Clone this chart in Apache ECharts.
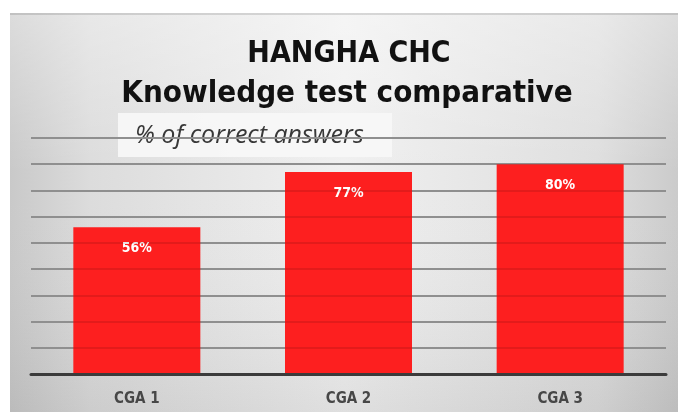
<!DOCTYPE html>
<html>
<head>
<meta charset="utf-8">
<script src="https://cdn.jsdelivr.net/npm/echarts@6/dist/echarts.min.js"></script>
<style>
  html, body { margin: 0; padding: 0; background: #fff; }
  #chart { width: 678px; height: 412px; }
</style>
</head>
<body>
<div id="chart"></div>
<script>
// Knowledge test results per group
const categories = ['CGA 1', 'CGA 2', 'CGA 3'];
const correctPct = [56, 77, 80];
const yTicks = { min: 0, max: 90, interval: 10 };

const titleMain = 'HANGHA CHC';
const titleSub = 'Knowledge test comparative';
const unitNote = '% of correct answers';

const condensed = "'DejaVu Sans Condensed', 'Liberation Sans Narrow', 'Roboto', sans-serif";

const chart = echarts.init(document.getElementById('chart'), null, { renderer: 'canvas' });

chart.setOption({
  backgroundColor: '#ffffff',
  animation: false,
  graphic: [
    {
      // panel: light in the middle, darker towards the sides
      type: 'rect', z: -10, silent: true,
      shape: { x: 10, y: 13, width: 668, height: 399 },
      style: {
        fill: {
          type: 'linear', x: 0, y: 0, x2: 1, y2: 0,
          colorStops: [
            { offset: 0, color: '#c9c9c9' },
            { offset: 0.12, color: '#dcdcdc' },
            { offset: 0.5, color: '#f0f0f0' },
            { offset: 0.88, color: '#dedede' },
            { offset: 1, color: '#cbcbcb' }
          ]
        }
      }
    },
    {
      // slight darkening towards the bottom
      type: 'rect', z: -9, silent: true,
      shape: { x: 10, y: 13, width: 668, height: 399 },
      style: {
        fill: {
          type: 'linear', x: 0, y: 0, x2: 0, y2: 1,
          colorStops: [
            { offset: 0, color: 'rgba(255,255,255,0.35)' },
            { offset: 0.4, color: 'rgba(255,255,255,0)' },
            { offset: 1, color: 'rgba(0,0,0,0.07)' }
          ]
        }
      }
    },
    {
      type: 'rect', z: -8, silent: true,
      shape: { x: 10, y: 13, width: 668, height: 2 },
      style: { fill: 'rgba(0,0,0,0.12)' }
    },
    {
      type: 'group', z: 20,
      children: [
        {
          type: 'rect',
          shape: { x: 118, y: 113, width: 274, height: 44 },
          style: { fill: 'rgba(247,247,247,0.92)' }
        },
        {
          type: 'text', x: 135, y: 136,
          style: {
            text: unitNote,
            font: 'italic 400 25px "Open Sans", "Noto Sans", sans-serif',
            fill: '#383838',
            verticalAlign: 'middle'
          }
        }
      ]
    }
  ],
  title: [
    {
      text: titleMain, left: 344, top: 34, textAlign: 'center',
      textStyle: { fontFamily: condensed, fontWeight: 'bold', fontSize: 30, color: '#111' }
    },
    {
      text: titleSub, left: 342, top: 73, textAlign: 'center',
      textStyle: { fontFamily: condensed, fontWeight: 'bold', fontSize: 31, color: '#111' }
    }
  ],
  grid: { left: 31, right: 12, top: 138, bottom: 38, containLabel: false },
  xAxis: {
    type: 'category',
    data: categories,
    axisTick: { show: false },
    axisLine: { lineStyle: { color: '#3b3b3b', width: 3 } },
    axisLabel: {
      margin: 18,
      fontFamily: condensed, fontWeight: 'bold', fontSize: 15, color: '#474747'
    },
    z: 6
  },
  yAxis: [
    {
      type: 'value', min: yTicks.min, max: yTicks.max, interval: yTicks.interval,
      axisLabel: { show: false }, axisLine: { show: false }, axisTick: { show: false },
      splitLine: { lineStyle: { color: '#a0a0a0', width: 2 } }
    },
    {
      type: 'value', min: yTicks.min, max: yTicks.max, interval: yTicks.interval,
      position: 'left', z: 5,
      axisLabel: { show: false }, axisLine: { show: false }, axisTick: { show: false },
      splitLine: { lineStyle: { color: 'rgba(0,0,0,0.1)', width: 2 } }
    }
  ],
  series: [
    {
      type: 'bar',
      data: correctPct,
      barWidth: '60%',
      z: 2,
      itemStyle: { color: '#fd1f1f' },
      label: {
        show: true, position: 'insideTop', distance: 14,
        formatter: '{c}%',
        fontFamily: condensed, fontWeight: 'bold', fontSize: 14, color: '#ffffff'
      }
    }
  ]
});
</script>
</body>
</html>
